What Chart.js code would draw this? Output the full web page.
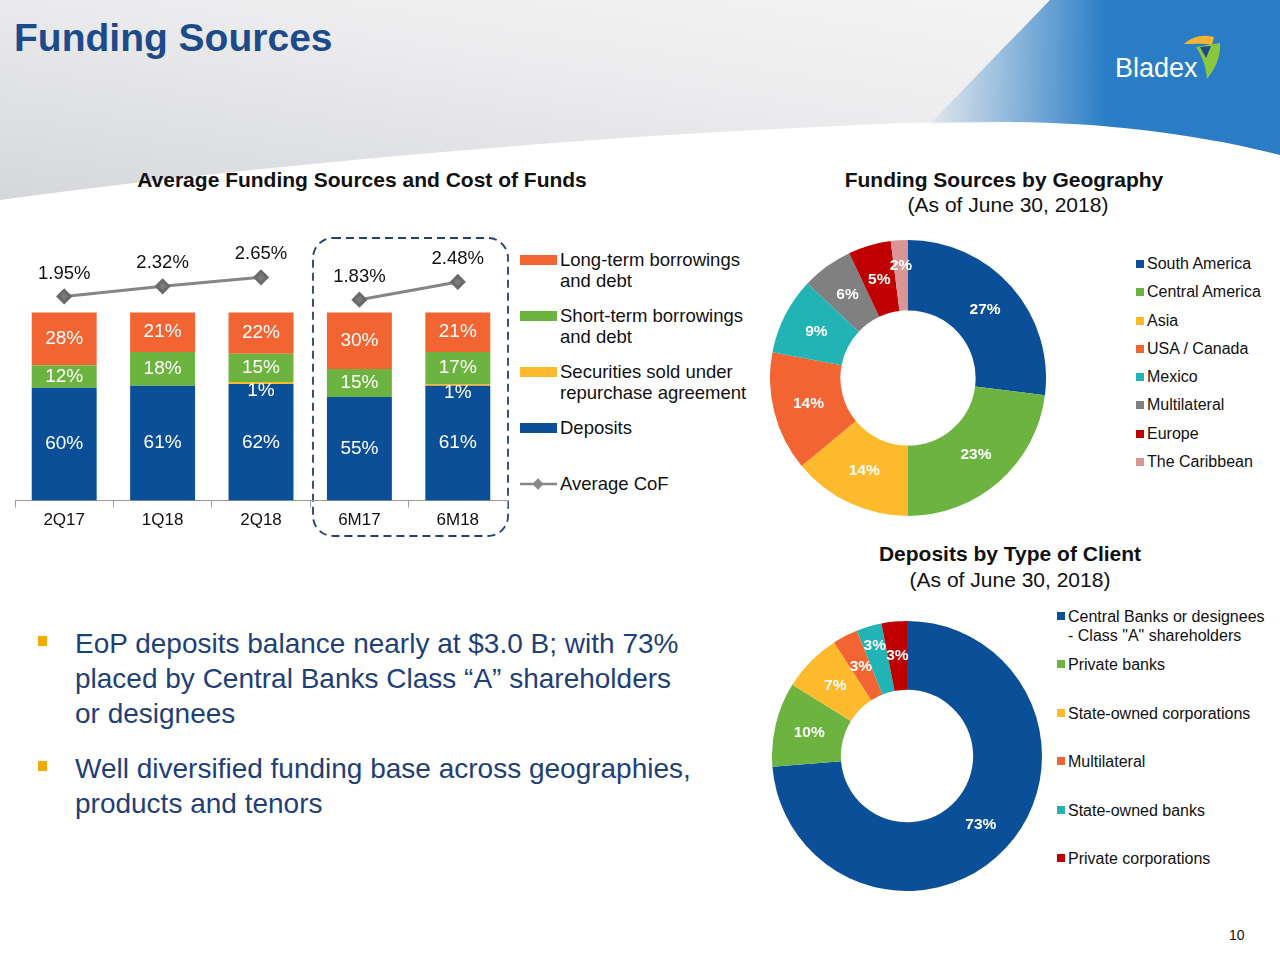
<!DOCTYPE html>
<html>
<head>
<meta charset="utf-8">
<title>Funding Sources</title>
<script src="https://cdn.jsdelivr.net/npm/chart.js@4.4.1/dist/chart.umd.min.js"></script>
<style>
  body { margin: 0; background: #fff; }
  #slide { position: relative; width: 1280px; height: 960px; overflow: hidden; background: #fff;
           font-family: "Liberation Sans", Arial, sans-serif; color: #111; }
  .abs { position: absolute; }
  .title { left: 14px; top: 16px; font-size: 39px; font-weight: bold; color: #1d4a8a; }
  .h { font-size: 21px; font-weight: bold; text-align: center; }
  .sub { font-size: 21px; text-align: center; }
  .bullets { left: 36px; top: 626px; width: 667px; font-size: 28px; color: #1f3f78; line-height: 35px; }
  .bullets div { position: relative; padding-left: 39px; margin-bottom: 20px; }
  .bullets div::before { content: ""; position: absolute; left: 2px; top: 10px; width: 9px; height: 10px; background: #f2a900; }
  #barLegend { left: 520px; top: 249px; }
  #barLegend .item { height: 56px; display: flex; align-items: flex-start; font-size: 18.5px; line-height: 21px; color: #111; }
  #barLegend .sw { width: 37px; height: 10px; margin-top: 6px; margin-right: 3px; flex: none; }
  #barLegend .txt { width: 205px; }
  .pieLegend .item { display: flex; align-items: flex-start; font-size: 16px; color: #111; }
  .pieLegend .sq { width: 8px; height: 8px; margin-top: 5px; margin-right: 3px; flex: none; }
  #geoLegend { left: 1136px; top: 255px; }
  #geoLegend .item { height: 28.3px; line-height: 18px; }
  #clientLegend { left: 1057px; top: 607px; }
  #clientLegend .item { height: 48.4px; line-height: 19px; }
  #clientLegend .txt { width: 203px; }
</style>
</head>
<body>
<div id="slide">
  <svg class="abs" style="left:0;top:0" width="1280" height="220">
    <defs>
      <linearGradient id="grayGrad" x1="0" y1="1" x2="1" y2="0">
        <stop offset="0" stop-color="#d5d7db"/>
        <stop offset="0.55" stop-color="#ececee"/>
        <stop offset="1" stop-color="#f6f6f6"/>
      </linearGradient>
      <linearGradient id="blueGrad" x1="0" y1="0" x2="1" y2="0">
        <stop offset="0" stop-color="#2b7ec6" stop-opacity="0.05"/>
        <stop offset="0.5" stop-color="#2b7ec6" stop-opacity="1"/>
        <stop offset="1" stop-color="#2a7cc4" stop-opacity="1"/>
      </linearGradient>
    </defs>
    <path d="M0,0 H1280 V152 C1150,122 1000,118 880,124 C600,136 300,160 0,200 Z" fill="url(#grayGrad)"/>
    <path d="M1050,0 H1280 V155 C1160,125 1040,118 930,124 Z" fill="url(#blueGrad)"/>
    <path d="M1184,44 C1192,36 1204,34 1214,37 L1212,45 C1204,43 1194,44 1184,44 Z" fill="#f5b335"/>
    <path d="M1196,47 L1220,43 C1221,58 1214,70 1207,79 C1206,66 1202,56 1196,47 Z" fill="#8cc63f"/>
    <path d="M1200,47 L1211,46 L1206,58 Z" fill="#1b4a8a"/>
    <text x="1115" y="77" font-family="Liberation Sans, Arial" font-size="27" fill="#fff">Bladex</text>
  </svg>

  <div class="abs title">Funding Sources</div>

  <div class="abs h" style="left:112px;top:168px;width:500px;">Average Funding Sources and Cost of Funds</div>
  <div class="abs h" style="left:804px;top:168px;width:400px;">Funding Sources by Geography</div>
  <div class="abs sub" style="left:808px;top:193px;width:400px;">(As of June 30, 2018)</div>
  <div class="abs h" style="left:810px;top:542px;width:400px;">Deposits by Type of Client</div>
  <div class="abs sub" style="left:810px;top:568px;width:400px;">(As of June 30, 2018)</div>

  <svg class="abs" style="left:310px;top:235px" width="202" height="305">
    <rect x="3" y="3" width="195" height="298" rx="20" ry="20" fill="none" stroke="#24406e" stroke-width="1.8" stroke-dasharray="8 5"/>
  </svg>
  <canvas id="barChart" class="abs" style="left:0;top:240px" width="520" height="294"></canvas>
  <div id="barLegend" class="abs"></div>

  <canvas id="geoChart" class="abs" style="left:770px;top:240px" width="276" height="276"></canvas>
  <div id="geoLegend" class="abs pieLegend"></div>

  <canvas id="clientChart" class="abs" style="left:772px;top:621px" width="270" height="270"></canvas>
  <div id="clientLegend" class="abs pieLegend"></div>

  <div class="abs bullets">
    <div>EoP deposits balance nearly at $3.0 B; with 73% placed by Central Banks Class “A” shareholders or designees</div>
    <div>Well diversified funding base across geographies, products and tenors</div>
  </div>

  <div class="abs" style="left:1229px;top:927px;font-size:14px;">10</div>
</div>

<script>
// données du graphique en barres (en %)
const periods = ['2Q17', '1Q18', '2Q18', '6M17', '6M18'];
const deposits = [60, 61, 62, 55, 61];
const securitiesRepo = [0, 0, 1, 0, 1];
const shortTermDebt = [12, 18, 15, 15, 17];
const longTermDebt = [28, 21, 22, 30, 21];
const avgCoF = [1.95, 2.32, 2.65, 1.83, 2.48];

// répartition géographique
const regions = ['South America', 'Central America', 'Asia', 'USA / Canada', 'Mexico', 'Multilateral', 'Europe', 'The Caribbean'];
const regionShares = [27, 23, 14, 14, 9, 6, 5, 2];

// dépôts par type de client
const clientTypes = ['Central Banks or designees - Class "A" shareholders', 'Private banks', 'State-owned corporations',
  'Multilateral', 'State-owned banks', 'Private corporations'];
const clientShares = [73, 10, 7, 3, 3, 3];

const FONT = '"Liberation Sans", Arial, sans-serif';
const BLUE = '#0c4f99', GREEN = '#6cb33f', YELLOW = '#fdba2c', ORANGE = '#f26532', TEAL = '#22b4b4',
      GRAY = '#808080', RED = '#c00000', PINK = '#d99694';

// petit plugin maison pour les étiquettes de valeurs
const valueLabels = {
  id: 'valueLabels',
  afterDatasetsDraw(chart, args, opts) {
    const ctx = chart.ctx;
    ctx.save();
    ctx.textAlign = 'center';
    ctx.textBaseline = 'middle';
    chart.data.datasets.forEach((ds, di) => {
      const meta = chart.getDatasetMeta(di);
      meta.data.forEach((el, i) => {
        const v = ds.data[i];
        if (!v) return;
        if (meta.type === 'bar') {
          ctx.font = '19px ' + FONT;
          ctx.fillStyle = '#fff';
          const y = v < 3 ? el.base + 7 : (el.y + el.base) / 2;
          ctx.fillText(v + '%', el.x, y);
        } else if (meta.type === 'line') {
          ctx.font = '18.5px ' + FONT;
          ctx.fillStyle = '#111';
          ctx.fillText(v.toFixed(2) + '%', el.x, el.y - 23);
        } else {
          const shift = (opts.radialShift || [])[i] || 0;
          const a = (el.startAngle + el.endAngle) / 2;
          const r = (el.innerRadius + el.outerRadius) / 2 + shift;
          ctx.font = 'bold 15.5px ' + FONT;
          ctx.fillStyle = '#fff';
          ctx.fillText(v + '%', el.x + Math.cos(a) * r, el.y + Math.sin(a) * r);
        }
      });
    });
    ctx.restore();
  }
};

new Chart(document.getElementById('barChart'), {
  type: 'bar',
  data: {
    labels: periods,
    datasets: [
      { type: 'line', label: 'Average CoF', data: avgCoF, yAxisID: 'y2', order: 0,
        borderColor: '#858585', borderWidth: 3, pointStyle: 'rectRot', pointRadius: 6,
        pointBackgroundColor: '#7a7a7a', pointBorderColor: '#6a6a6a', tension: 0,
        segment: { borderColor: c => periods[c.p0DataIndex].startsWith('6M') !== periods[c.p1DataIndex].startsWith('6M') ? 'transparent' : '#858585' } },
      { label: 'Deposits', data: deposits, backgroundColor: BLUE, order: 1 },
      { label: 'Securities sold under repurchase agreement', data: securitiesRepo, backgroundColor: YELLOW, order: 1 },
      { label: 'Short-term borrowings and debt', data: shortTermDebt, backgroundColor: GREEN, order: 1 },
      { label: 'Long-term borrowings and debt', data: longTermDebt, backgroundColor: ORANGE, order: 1 }
    ]
  },
  options: {
    responsive: false,
    animation: false,
    events: [],
    layout: { autoPadding: false, padding: { left: 15, right: 13, top: 0, bottom: 0 } },
    datasets: { bar: { categoryPercentage: 1, barPercentage: 0.66 } },
    scales: {
      x: {
        stacked: true,
        grid: { display: true, drawOnChartArea: false, drawTicks: true, tickLength: 7, color: '#9a9a9a' },
        border: { display: true, color: '#9a9a9a', width: 1 },
        ticks: { color: '#111', font: { family: FONT, size: 17 }, padding: 3 }
      },
      y: { stacked: true, display: false, min: 0, max: 138.5 },
      y2: { display: false, min: -5.54, max: 4.02 }
    },
    plugins: { legend: { display: false }, tooltip: { enabled: false } }
  },
  plugins: [valueLabels]
});

new Chart(document.getElementById('geoChart'), {
  type: 'doughnut',
  data: {
    labels: regions,
    datasets: [{ data: regionShares, backgroundColor: [BLUE, GREEN, YELLOW, ORANGE, TEAL, GRAY, RED, PINK],
                 borderWidth: 0, hoverOffset: 0 }]
  },
  options: {
    responsive: false, animation: false, events: [], cutout: '49%',
    plugins: { legend: { display: false }, tooltip: { enabled: false },
               valueLabels: { radialShift: [0, 0, 0, 0, 0, 0, 0, 10] } }
  },
  plugins: [valueLabels]
});

new Chart(document.getElementById('clientChart'), {
  type: 'doughnut',
  data: {
    labels: clientTypes,
    datasets: [{ data: clientShares, backgroundColor: [BLUE, GREEN, YELLOW, ORANGE, TEAL, RED],
                 borderWidth: 0, hoverOffset: 0 }]
  },
  options: {
    responsive: false, animation: false, events: [], cutout: '49%',
    plugins: { legend: { display: false }, tooltip: { enabled: false },
               valueLabels: { radialShift: [0, 0, 0, 0, 14, 0] } }
  },
  plugins: [valueLabels]
});

// légendes HTML
const barLeg = document.getElementById('barLegend');
[['Long-term borrowings and debt', ORANGE], ['Short-term borrowings and debt', GREEN],
 ['Securities sold under repurchase agreement', YELLOW], ['Deposits', BLUE]].forEach(([t, c]) => {
  barLeg.insertAdjacentHTML('beforeend',
    `<div class="item"><span class="sw" style="background:${c}"></span><span class="txt">${t}</span></div>`);
});
barLeg.insertAdjacentHTML('beforeend',
  `<div class="item"><svg width="40" height="21" style="flex:none"><line x1="0" y1="11" x2="37" y2="11" stroke="#858585" stroke-width="2.5"/>` +
  `<rect x="14" y="7" width="8" height="8" fill="#8a8a8a" transform="rotate(45 18 11)"/></svg><span class="txt">Average CoF</span></div>`);

function pieLegend(id, names, colors) {
  const el = document.getElementById(id);
  names.forEach((n, i) => {
    const safe = n.replace(/"/g, '&quot;');
    el.insertAdjacentHTML('beforeend',
      `<div class="item"><span class="sq" style="background:${colors[i]}"></span><span class="txt">${safe}</span></div>`);
  });
}
pieLegend('geoLegend', regions, [BLUE, GREEN, YELLOW, ORANGE, TEAL, GRAY, RED, PINK]);
pieLegend('clientLegend', clientTypes, [BLUE, GREEN, YELLOW, ORANGE, TEAL, RED]);
</script>
</body>
</html>
